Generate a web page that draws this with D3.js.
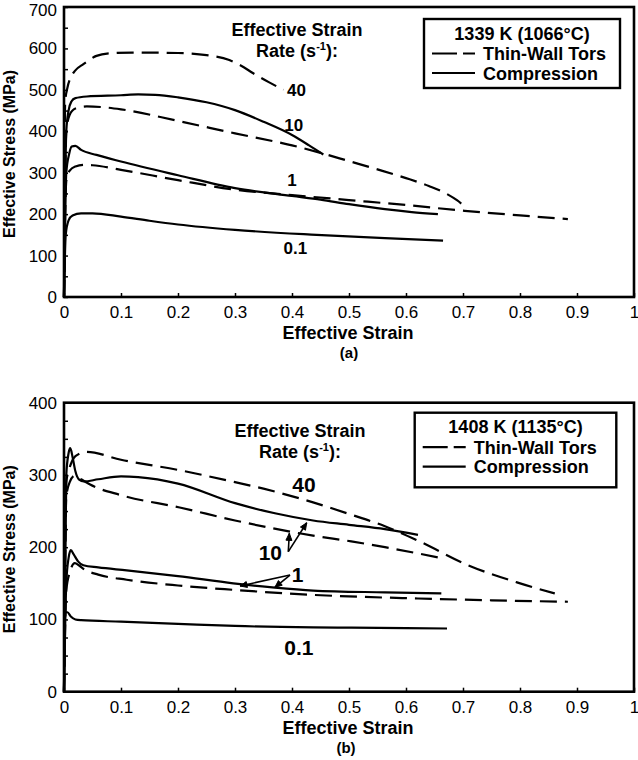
<!DOCTYPE html>
<html>
<head>
<meta charset="utf-8">
<script src="https://cdn.jsdelivr.net/npm/d3@7/dist/d3.min.js"></script>
<style>
  html, body { margin: 0; padding: 0; background: #fff; }
  svg { display: block; }
  text { font-family: "Liberation Sans", Arial, Helvetica, sans-serif; fill: #000; }
</style>
</head>
<body>
<svg id="chart" width="638" height="760"></svg>
<script>
// ---------------- DATA ----------------
const strainTicks = [0, 0.1, 0.2, 0.3, 0.4, 0.5, 0.6, 0.7, 0.8, 0.9, 1];
const strainTickLabels = ["0", "0.1", "0.2", "0.3", "0.4", "0.5", "0.6", "0.7", "0.8", "0.9", "1"];
const stressTicksA = [0, 100, 200, 300, 400, 500, 600, 700];
const stressTicksB = [0, 100, 200, 300, 400];
const rateLabels = ["40", "10", "1", "0.1"];
const panelTitles = ["1339 K (1066°C)", "1408 K (1135°C)"];
const seriesNames = ["Thin-Wall Tors", "Compression"];
const panelCaptions = ["(a)", "(b)"];

// Panel (a) 1339 K — [strain, stress MPa]
const a_tors40 = [[0,0],[0.002,470],[0.006,505],[0.011,528],[0.02,547],[0.034,562],[0.057,582],[0.08,588],[0.12,590],[0.2,589],[0.25,584],[0.29,572],[0.31,559],[0.332,540],[0.36,518],[0.385,500]];
const a_comp10 = [[0,0],[0.004,400],[0.008,450],[0.013,472],[0.02,480],[0.04,484],[0.1,487],[0.13,489],[0.16,488],[0.2,482],[0.25,470],[0.3,451],[0.35,423],[0.4,391],[0.43,366],[0.455,344]];
const a_tors10 = [[0,0],[0.004,400],[0.01,440],[0.02,455],[0.04,460],[0.07,458],[0.1,453],[0.2,425],[0.3,395],[0.4,366],[0.45,348],[0.5,328],[0.55,308],[0.6,287],[0.64,268],[0.67,250],[0.69,233],[0.70,222]];
const a_tors1 = [[0,0],[0.004,280],[0.01,305],[0.02,315],[0.035,319],[0.05,318],[0.1,307],[0.2,282],[0.3,259],[0.4,246],[0.5,234],[0.6,222],[0.703,208],[0.8,197],[0.884,188]];
const a_comp1 = [[0,0],[0.004,300],[0.009,345],[0.0135,363],[0.02,365],[0.03,355],[0.057,343],[0.1,327],[0.2,294],[0.3,263],[0.4,244],[0.45,235],[0.5,224],[0.563,212],[0.61,205],[0.656,200]];
const a_comp01 = [[0,0],[0.003,150],[0.008,185],[0.015,197],[0.03,202],[0.05,202],[0.1,194],[0.15,184],[0.2,175],[0.3,162],[0.443,150],[0.563,142],[0.665,136]];

// Panel (b) 1408 K
const b_tors40 = [[0,0],[0.004,290],[0.008,305],[0.0135,318],[0.02,326],[0.04,332],[0.1,321],[0.2,307],[0.3,290],[0.35,281],[0.437,262],[0.5,246],[0.563,229],[0.621,209],[0.709,175],[0.796,151],[0.861,136]];
const b_comp10 = [[0,0],[0.004,300],[0.008,330],[0.011,337],[0.015,325],[0.02,305],[0.026,294],[0.035,291],[0.06,294],[0.1,298],[0.13,297],[0.2,288],[0.3,261],[0.37,247],[0.437,237],[0.5,231],[0.563,225],[0.621,217]];
const b_tors10 = [[0,0],[0.004,270],[0.01,290],[0.019,299],[0.03,294],[0.045,287],[0.1,272],[0.203,255],[0.3,237],[0.437,216],[0.504,208],[0.563,200],[0.662,185]];
const b_comp1 = [[0,0],[0.004,150],[0.008,185],[0.012,196],[0.017,190],[0.025,180],[0.034,175],[0.06,172],[0.11,168],[0.2,160],[0.297,150],[0.37,144],[0.437,140],[0.563,137.5],[0.662,136]];
const b_tors1 = [[0,0],[0.004,140],[0.01,165],[0.019,178],[0.026,175],[0.034,170],[0.06,162],[0.11,155],[0.2,147],[0.297,141],[0.437,134],[0.621,129],[0.75,126.5],[0.884,124.5]];
const b_comp01 = [[0,0],[0.002,110],[0.006,110],[0.012,104],[0.02,100],[0.03,99],[0.1,97],[0.2,94],[0.3,91],[0.437,89],[0.504,88.6],[0.6,88],[0.672,87.5]];

// ---------------- DRAWING ----------------
const svg = d3.select("#chart");
const FONT = '"Liberation Sans", Arial, Helvetica, sans-serif';
const DASH = "17,8";

function panel(cfg) {
  const x = d3.scaleLinear().domain([0, 1]).range([64, 634]);
  const y = d3.scaleLinear().domain([0, cfg.ymax]).range([cfg.bottom, cfg.top]);
  const g = svg.append("g");

  // x axis
  const xAxis = d3.axisBottom(x).tickValues(strainTicks)
    .tickFormat((d, i) => strainTickLabels[i])
    .tickSizeInner(-4).tickSizeOuter(0).tickPadding(9);
  const gx = g.append("g").attr("transform", `translate(0,${cfg.bottom})`).call(xAxis);
  gx.select(".domain").remove();
  gx.selectAll("line").attr("stroke", "#000").attr("stroke-width", 1.5);
  gx.selectAll("text").attr("font-size", 17).attr("font-family", FONT);

  // y axis (minor ticks, labels every 100)
  const yVals = d3.range(0, cfg.ymax + 0.1, cfg.minor);
  const yAxis = d3.axisLeft(y).tickValues(yVals)
    .tickFormat(d => (cfg.labels.includes(d) ? String(d) : ""))
    .tickSizeInner(-4).tickSizeOuter(0).tickPadding(7);
  const gy = g.append("g").attr("transform", `translate(64,0)`).call(yAxis);
  gy.select(".domain").remove();
  gy.selectAll("line").attr("stroke", "#000").attr("stroke-width", 1.5);
  gy.selectAll("text").attr("font-size", 17).attr("font-family", FONT);
  if (cfg.top < 10) {
    gy.selectAll(".tick").filter(d => d === cfg.ymax).select("text").attr("dy", "0.5em");
  }

  // curves
  const line = d3.line().x(d => x(d[0])).y(d => y(d[1])).curve(d3.curveMonotoneX);
  cfg.series.forEach(s => {
    g.append("path").datum(s.data)
      .attr("fill", "none").attr("stroke", "#000").attr("stroke-width", 2.2)
      .attr("stroke-dasharray", s.dashed ? DASH : null)
      .attr("stroke-linejoin", "round")
      .attr("d", line);
  });

  // frame
  g.append("rect").attr("x", 64).attr("y", cfg.top)
    .attr("width", 570).attr("height", cfg.bottom - cfg.top)
    .attr("fill", "none").attr("stroke", "#000").attr("stroke-width", 2.6);

  // axis titles
  g.append("text").attr("x", 348).attr("y", cfg.xTitleY).attr("text-anchor", "middle")
    .attr("font-size", 18).attr("font-weight", "bold").text("Effective Strain");
  g.append("text").attr("transform", `translate(15,${(cfg.top + cfg.bottom) / 2 + 2}) rotate(-90)`)
    .attr("text-anchor", "middle").attr("font-size", 16).attr("font-weight", "bold")
    .text("Effective Stress (MPa)");
  g.append("text").attr("x", cfg.captionX).attr("y", cfg.captionY).attr("text-anchor", "middle")
    .attr("font-size", 15).attr("font-weight", "bold").text(cfg.caption);

  // "Effective Strain Rate (s-1):"
  g.append("text").attr("x", cfg.rateX).attr("y", cfg.rateY).attr("text-anchor", "middle")
    .attr("font-size", 18).attr("font-weight", "bold").text("Effective Strain");
  const t2 = g.append("text").attr("x", cfg.rateX).attr("y", cfg.rateY + 21).attr("text-anchor", "middle")
    .attr("font-size", 18).attr("font-weight", "bold");
  t2.append("tspan").text("Rate (s");
  t2.append("tspan").attr("font-size", 11).attr("dy", -7).text("-1");
  t2.append("tspan").attr("dy", 7).text("):");

  // rate labels
  cfg.rateLabelPos.forEach((p, i) => {
    g.append("text").attr("x", x(p[0])).attr("y", y(p[1])).attr("text-anchor", "middle")
      .attr("font-size", cfg.rateFont).attr("font-weight", "bold").text(rateLabels[i]);
  });

  // arrows
  (cfg.arrows || []).forEach(a => {
    const x1 = x(a.from[0]), y1 = y(a.from[1]), x2 = x(a.to[0]), y2 = y(a.to[1]);
    g.append("line").attr("x1", x1).attr("y1", y1).attr("x2", x2).attr("y2", y2)
      .attr("stroke", "#000").attr("stroke-width", 1.6);
    const ang = Math.atan2(y2 - y1, x2 - x1);
    const L = 7, W = 3;
    const bx = x2 - L * Math.cos(ang), by = y2 - L * Math.sin(ang);
    const px = -Math.sin(ang) * W, py = Math.cos(ang) * W;
    g.append("path").attr("d", `M${x2},${y2}L${bx + px},${by + py}L${bx - px},${by - py}Z`)
      .attr("fill", "#000").attr("stroke", "#000").attr("stroke-width", 1);
  });

  // legend
  const L = cfg.legend;
  g.append("rect").attr("x", L.x).attr("y", L.y).attr("width", L.w).attr("height", L.h)
    .attr("fill", "#fff").attr("stroke", "#000").attr("stroke-width", 2.4);
  g.append("text").attr("x", L.x + L.w / 2).attr("y", L.y + 20.5).attr("text-anchor", "middle")
    .attr("font-size", 18).attr("font-weight", "bold").text(cfg.title);
  [0, 1].forEach(i => {
    const cy = L.y + 34.5 + i * 19.5;
    g.append("line").attr("x1", L.x + 8).attr("x2", L.x + 51).attr("y1", cy).attr("y2", cy)
      .attr("stroke", "#000").attr("stroke-width", 2.2)
      .attr("stroke-dasharray", i === 0 ? "25,6,12,100" : null);
    g.append("text").attr("x", L.x + 59).attr("y", cy + 6.5)
      .attr("font-size", 18).attr("font-weight", "bold").text(seriesNames[i]);
  });
}

panel({
  top: 7, bottom: 297, ymax: 700, minor: 50, labels: stressTicksA,
  xTitleY: 339, caption: panelCaptions[0], captionX: 349, captionY: 358,
  rateX: 297, rateY: 36, rateFont: 17, title: panelTitles[0],
  legend: { x: 424, y: 19, w: 196, h: 69 },
  series: [
    { data: a_tors40, dashed: true }, { data: a_comp10, dashed: false },
    { data: a_tors10, dashed: true }, { data: a_tors1, dashed: true },
    { data: a_comp1, dashed: false }, { data: a_comp01, dashed: false }
  ],
  rateLabelPos: [[0.408, 485], [0.403, 401], [0.40, 268], [0.406, 104]]
});

panel({
  top: 402.7, bottom: 691.7, ymax: 400, minor: 25, labels: stressTicksB,
  xTitleY: 734, caption: panelCaptions[1], captionX: 346, captionY: 753,
  rateX: 300, rateY: 436.5, rateFont: 21, title: panelTitles[1],
  legend: { x: 414.7, y: 412.7, w: 201.6, h: 74.6 },
  series: [
    { data: b_tors40, dashed: true }, { data: b_comp10, dashed: false },
    { data: b_tors10, dashed: true }, { data: b_comp1, dashed: false },
    { data: b_tors1, dashed: true }, { data: b_comp01, dashed: false }
  ],
  rateLabelPos: [[0.421, 277], [0.362, 182], [0.41, 152], [0.412, 51]],
  arrows: [
    { from: [0.3935, 193.8], to: [0.4258, 233.9] },
    { from: [0.3935, 193.8], to: [0.3953, 219.2] },
    { from: [0.3965, 161.5], to: [0.3088, 146.3] },
    { from: [0.3965, 161.5], to: [0.370, 144.5] }
  ]
});
</script>
</body>
</html>
